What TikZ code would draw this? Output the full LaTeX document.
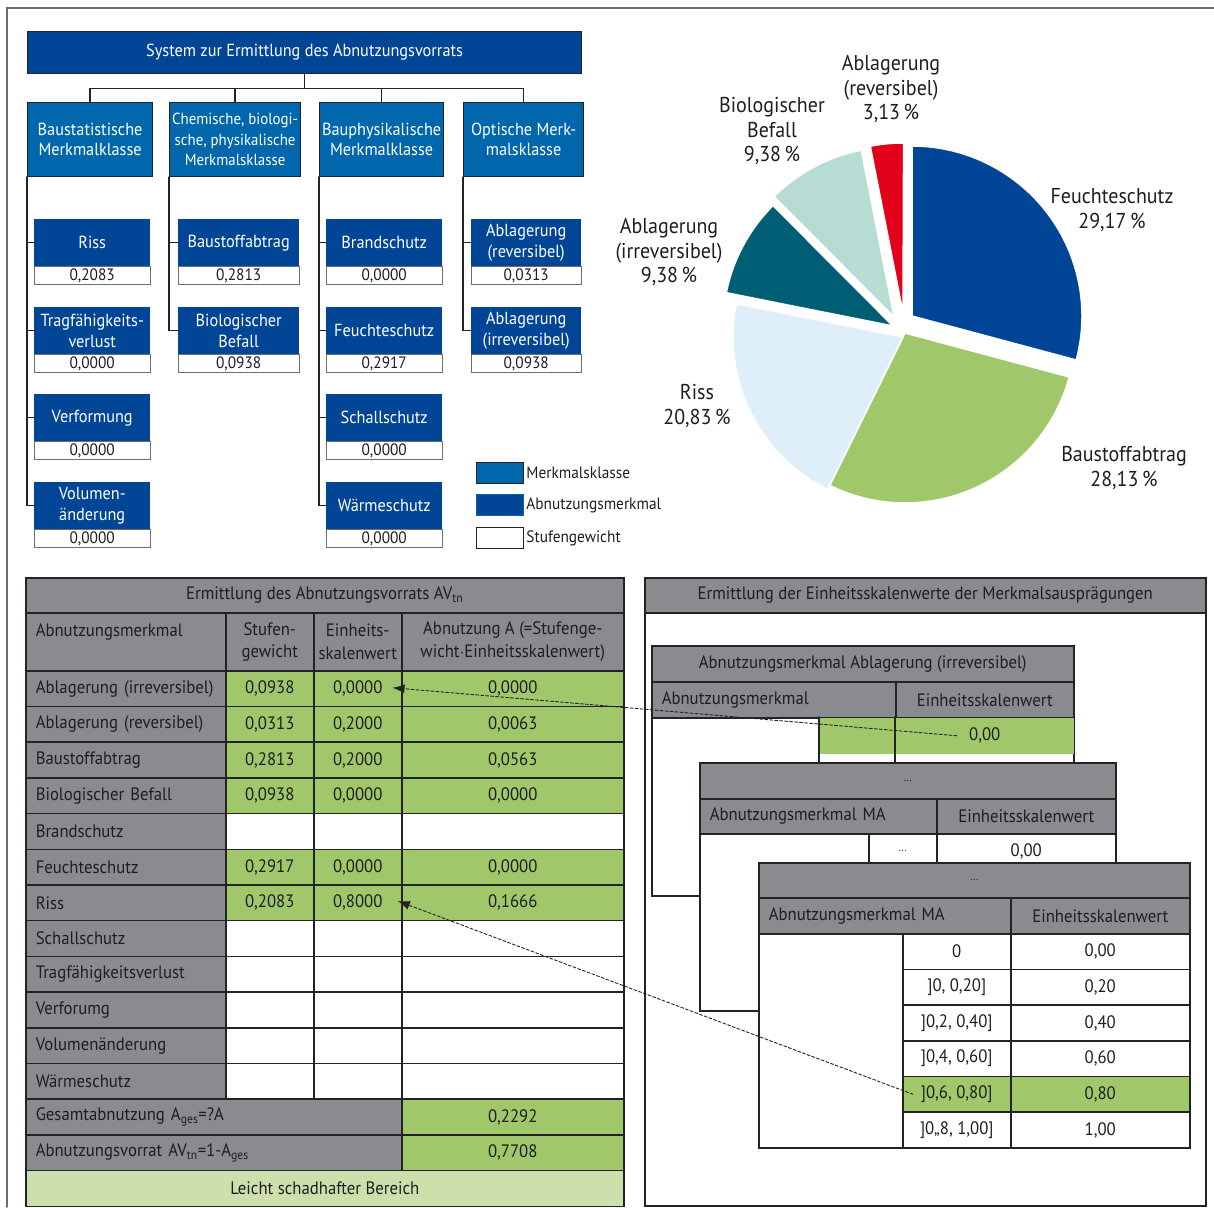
\documentclass[tikz,border=0pt]{standalone}
\usepackage{fontspec}
\setmainfont{PT Sans}[FakeStretch=0.93]
\usetikzlibrary{arrows.meta}

\definecolor{dunkelblau}{RGB}{0,69,150}
\definecolor{mittelblau}{RGB}{0,103,172}
\definecolor{rahmen}{RGB}{35,35,38}
\definecolor{grau}{RGB}{110,110,112}
\definecolor{tabgrau}{RGB}{138,139,142}
\definecolor{tabgruen}{RGB}{160,199,106}
\definecolor{hellgruen}{RGB}{205,224,172}
\definecolor{hellblau}{RGB}{222,239,250}
\definecolor{petrol}{RGB}{0,94,116}
\definecolor{mint}{RGB}{182,220,212}
\definecolor{signalrot}{RGB}{226,0,26}
\definecolor{schrift}{RGB}{30,30,32}

\newcommand{\baumfont}{\fontsize{17.5}{20.5}\selectfont}
\newcommand{\wertfont}{\fontsize{16.5}{17}\selectfont}
\newcommand{\tabfont}{\fontsize{18}{22.5}\selectfont}
\newcommand{\tortefont}{\fontsize{21.5}{24.5}\selectfont}
\newcommand{\legfont}{\fontsize{16.5}{18}\selectfont}

\tikzset{
  linie/.style={draw=rahmen, line width=1.3pt},
  titelbox/.style={draw=rahmen, line width=1.2pt, fill=dunkelblau, text=white, font=\baumfont,
    minimum width=554pt, minimum height=42pt, inner sep=0pt, anchor=north west},
  klasse/.style={draw=rahmen, line width=1.2pt, fill=mittelblau, text=white, align=center,
    minimum height=74pt, inner sep=0pt, font=\baumfont, anchor=north west},
  merkmal/.style={fill=dunkelblau, text=white, align=center, minimum height=47pt,
    inner sep=0pt, font=\baumfont, anchor=north west},
  wert/.style={draw=grau, line width=1pt, fill=white, text=schrift, minimum height=18pt,
    inner sep=0pt, font=\wertfont, anchor=north},
  legbox/.style={line width=1.2pt, minimum width=47pt, minimum height=21pt, inner sep=0pt,
    anchor=north west},
  legtext/.style={text=schrift, font=\legfont, inner sep=2pt, anchor=west},
  tortentext/.style={text=schrift, font=\tortefont, align=center, inner sep=0pt},
  zelle/.style={draw=rahmen, line width=1.5pt, inner sep=0pt, anchor=north west,
    font=\tabfont, text=schrift, minimum height=35.7pt},
  namezelle/.style={fill=tabgrau, minimum width=200pt, text width=180pt, align=left,
    inner xsep=10pt},
  spaltl/.style={fill=tabgrau, align=left, inner xsep=10pt, minimum height=36pt},
  pfeil/.style={draw=rahmen, line width=0.9pt, dash pattern=on 3pt off 2pt,
    -{Latex[length=12pt,width=9pt]}},
}

\begin{document}
\begin{tikzpicture}[x=1pt,y=-1pt,line cap=round]
        \useasboundingbox (0,0) rectangle (1214,1207);
        % Tunables
        \def\rh{35.7}      % row height of the left table
        \def\sh{35.67}     % row height of the scale table
        \def\r{170}        % pie radius

        % Helper macro for one feature: (name, x left, y top, width, text, value)
        \newcommand{\merkmalbox}[6]{%
          \node[merkmal, minimum width=#4pt] (#1) at (#2,#3) {#5};
          \node[wert, minimum width=#4pt] (#1w) at (#1.south) {#6};
        }
        % Helper macro for one pie slice: (colour, apex x, apex y, start angle, end angle)
        \newcommand{\stueck}[5]{%
          \fill[#1, draw=white, line width=1.5pt] (#2,#3) -- ++(-#4:\r)
            arc[start angle=-#4, end angle=-#5, radius=\r] -- cycle;
        }
        % Helper macro for one table row: (name, index, label, weight, scale value, wear, fill)
        \newcommand{\zeile}[7]{%
          \node[zelle, namezelle] (#1l) at (25,{670+#2*\rh}) {#3};
          \node[zelle, fill=#7, minimum width=88pt] (#1a) at (225,{670+#2*\rh}) {#4};
          \node[zelle, fill=#7, minimum width=88pt] (#1b) at (313,{670+#2*\rh}) {#5};
          \node[zelle, fill=#7, minimum width=222pt] (#1c) at (401,{670+#2*\rh}) {#6};
        }
        % Helper macro for one scale step: (name, index, interval, value, fill)
        \newcommand{\stufe}[5]{%
          \node[zelle, fill=#5, minimum width=108pt] (#1a) at (902,{933+#2*\sh}) {#3};
          \node[zelle, fill=#5, minimum width=179pt] (#1b) at (1010,{933+#2*\sh}) {#4};
        }

        % Outer frame
        \draw[draw=grau, line width=1.5pt] (1214,8) -- (7,8) -- (7,1207);

        % Tree
        \node[titelbox] (titel) at (27,31) {System zur Ermittlung des Abnutzungsvorrats};
        \node[klasse, minimum width=125pt] (k1) at (27,102) {Baustatistische\\Merkmalklasse};
        \node[klasse, minimum width=131pt, font=\fontsize{16}{20.5}\selectfont] (k2) at (169,102)
          {Chemische, biologi-\\sche, physikalische\\Merkmalsklasse};
        \node[klasse, minimum width=124pt] (k3) at (319,102) {Bauphysikalische\\Merkmalklasse};
        \node[klasse, minimum width=120pt] (k4) at (463,102) {Optische Merk-\\malsklasse};

        \draw[linie] (titel.south) -- ++(0,14) coordinate (ast);
        \draw[linie] (ast) -| (k1.north);
        \draw[linie] (ast) -| (k2.north);
        \draw[linie] (ast) -| (k3.north);
        \draw[linie] (ast) -| (k4.north);

        \merkmalbox{riss}{34}{219}{116}{Riss}{0,2083}
        \merkmalbox{trag}{34}{307}{116}{Tragfähigkeits-\\verlust}{0,0000}
        \merkmalbox{verf}{34}{394}{116}{Verformung}{0,0000}
        \merkmalbox{vol}{34}{482}{116}{Volumen-\\änderung}{0,0000}
        \merkmalbox{abtrag}{178}{219}{121}{Baustoffabtrag}{0,2813}
        \merkmalbox{bio}{178}{307}{121}{Biologischer\\Befall}{0,0938}
        \merkmalbox{brand}{326}{219}{116}{Brandschutz}{0,0000}
        \merkmalbox{feucht}{326}{307}{116}{Feuchteschutz}{0,2917}
        \merkmalbox{schall}{326}{394}{116}{Schallschutz}{0,0000}
        \merkmalbox{waerme}{326}{482}{116}{Wärmeschutz}{0,0000}
        \merkmalbox{ablrev}{471}{219}{110}{Ablagerung\\(reversibel)}{0,0313}
        \merkmalbox{ablirr}{471}{307}{110}{Ablagerung\\(irreversibel)}{0,0938}

        \draw[linie] (k1.south west) |- (riss.west);
        \draw[linie] (k1.south west) |- (trag.west);
        \draw[linie] (k1.south west) |- (verf.west);
        \draw[linie] (k1.south west) |- (vol.west);
        \draw[linie] (k2.south west) |- (abtrag.west);
        \draw[linie] (k2.south west) |- (bio.west);
        \draw[linie] (k3.south west) |- (brand.west);
        \draw[linie] (k3.south west) |- (feucht.west);
        \draw[linie] (k3.south west) |- (schall.west);
        \draw[linie] (k3.south west) |- (waerme.west);
        \draw[linie] (k4.south west) |- (ablrev.west);
        \draw[linie] (k4.south west) |- (ablirr.west);

        % Legend
        \node[legbox, fill=mittelblau, draw=rahmen] (leg1) at (476,462) {};
        \node[legbox, fill=dunkelblau, draw=mittelblau] (leg2) at (476,494) {};
        \node[legbox, fill=white, draw=rahmen] (leg3) at (476,527) {};
        \node[legtext] (leg1t) at (leg1.east) {Merkmalsklasse};
        \node[legtext] (leg2t) at (leg2.east) {Abnutzungsmerkmal};
        \node[legtext] (leg3t) at (leg3.east) {Stufengewicht};

        % Pie
        \stueck{dunkelblau}{912}{316}{90}{-15}
        \stueck{tabgruen}{905}{333}{-15}{-116.3}
        \stueck{hellblau}{903}{337}{-116.3}{-191.3}
        \stueck{petrol}{893}{326}{168.7}{134.9}
        \stueck{mint}{894}{317}{134.9}{101.1}
        \stueck{signalrot}{903}{313}{101.1}{89.8}

        \node[tortentext] (lablrev) at (891,89) {Ablagerung\\(reversibel)\\3,13\,\%};
        \node[tortentext] (lbio) at (772,131) {Biologischer\\Befall\\9,38\,\%};
        \node[tortentext] (lfeucht) at (1112,210) {Feuchteschutz\\29,17\,\%};
        \node[tortentext] (lablirr) at (669,252) {Ablagerung\\(irreversibel)\\9,38\,\%};
        \node[tortentext] (lriss) at (697,406) {Riss\\20,83\,\%};
        \node[tortentext] (labtrag) at (1124,468) {Baustoffabtrag\\28,13\,\%};

        % Left table
        \node[zelle, fill=tabgrau, minimum width=598pt, minimum height=35pt] (ltitel) at (25,577)
          {Ermittlung des Abnutzungsvorrats AV\textsubscript{tn}};
        \node[zelle, namezelle, minimum height=58pt] (kopfl) at (25,612) {Abnutzungsmerkmal\\\mbox{}};
        \node[zelle, fill=tabgrau, minimum width=88pt, minimum height=58pt, align=center] (kopfa)
          at (225,612) {Stufen-\\gewicht};
        \node[zelle, fill=tabgrau, minimum width=88pt, minimum height=58pt, align=center] (kopfb)
          at (313,612) {Einheits-\\skalenwert};
        \node[zelle, fill=tabgrau, minimum width=222pt, minimum height=58pt, align=center] (kopfc)
          at (401,612) {Abnutzung A (=Stufenge-\\wicht$\cdot$Einheitsskalenwert)};

        \zeile{z1}{0}{Ablagerung (irreversibel)}{0,0938}{0,0000}{0,0000}{tabgruen}
        \zeile{z2}{1}{Ablagerung (reversibel)}{0,0313}{0,2000}{0,0063}{tabgruen}
        \zeile{z3}{2}{Baustoffabtrag}{0,2813}{0,2000}{0,0563}{tabgruen}
        \zeile{z4}{3}{Biologischer Befall}{0,0938}{0,0000}{0,0000}{tabgruen}
        \zeile{z5}{4}{Brandschutz}{}{}{}{white}
        \zeile{z6}{5}{Feuchteschutz}{0,2917}{0,0000}{0,0000}{tabgruen}
        \zeile{z7}{6}{Riss}{0,2083}{0,8000}{0,1666}{tabgruen}
        \zeile{z8}{7}{Schallschutz}{}{}{}{white}
        \zeile{z9}{8}{Tragfähigkeitsverlust}{}{}{}{white}
        \zeile{z10}{9}{Verforumg}{}{}{}{white}
        \zeile{z11}{10}{Volumenänderung}{}{}{}{white}
        \zeile{z12}{11}{Wärmeschutz}{}{}{}{white}

        \node[zelle, namezelle, minimum width=376pt, text width=356pt] (gesl) at (25,{670+12*\rh})
          {Gesamtabnutzung A\textsubscript{ges}=?A};
        \node[zelle, fill=tabgruen, minimum width=222pt] (gesw) at (401,{670+12*\rh}) {0,2292};
        \node[zelle, namezelle, minimum width=376pt, text width=356pt] (vorl) at (25,{670+13*\rh})
          {Abnutzungsvorrat AV\textsubscript{tn}=1-A\textsubscript{ges}};
        \node[zelle, fill=tabgruen, minimum width=222pt] (vorw) at (401,{670+13*\rh}) {0,7708};
        \node[zelle, fill=hellgruen, minimum width=598pt] (bereich) at (25,{670+14*\rh})
          {Leicht schadhafter Bereich};

        % Right panel
        \node[zelle, fill=white, minimum width=561pt, minimum height=628pt] (rrahmen) at (644,577) {};
        \node[zelle, fill=tabgrau, minimum width=561pt, minimum height=35pt] (rtitel) at (644,577)
          {Ermittlung der Einheitsskalenwerte der Merkmalsausprägungen};

        % Scale table: Ablagerung (irreversibel)
        \node[zelle, fill=white, minimum width=422pt, minimum height=250pt] (t1) at (651,645) {};
        \node[zelle, fill=tabgrau, minimum width=422pt, minimum height=36pt] (t1kopf) at (651,645)
          {Abnutzungsmerkmal Ablagerung (irreversibel)};
        \node[zelle, spaltl, minimum width=244pt, text width=224pt] (t1a) at (651,681) {Abnutzungsmerkmal};
        \node[zelle, fill=tabgrau, minimum width=178pt, minimum height=36pt] (t1b) at (895,681)
          {Einheitsskalenwert};
        \node[zelle, draw=none, fill=tabgruen, minimum width=76pt, minimum height=36pt] (t1c) at (819,717) {};
        \node[zelle, draw=none, fill=tabgruen, minimum width=178pt, minimum height=36pt] (t1d) at (895,717) {0,00};
        \draw[linie] (t1c.north west) -- ++(0,45);
        \draw[linie] (t1d.north west) -- ++(0,45);
        \draw[linie] (t1d.north east) -- ++(0,45);

        % Scale table: second feature
        \node[zelle, fill=white, minimum width=416pt, minimum height=248pt] (t2) at (699,762) {};
        \node[zelle, fill=tabgrau, minimum width=416pt, minimum height=36pt] (t2kopf) at (699,762)
          {\fontsize{11}{11}\selectfont...};
        \node[zelle, spaltl, minimum width=237pt, text width=217pt, minimum height=35pt] (t2a) at (699,798)
          {Abnutzungsmerkmal MA};
        \node[zelle, fill=tabgrau, minimum width=179pt, minimum height=35pt] (t2b) at (936,798)
          {Einheitsskalenwert};
        \node[zelle, minimum width=68pt, minimum height=35pt] (t2c) at (868,833)
          {\fontsize{11}{11}\selectfont...};
        \node[zelle, minimum width=179pt, minimum height=35pt] (t2d) at (936,833) {0,00};

        % Scale table: feature MA
        \node[zelle, fill=white, minimum width=431pt, minimum height=285pt] (t3) at (758,862) {};
        \node[zelle, fill=tabgrau, minimum width=431pt, minimum height=35pt] (t3kopf) at (758,862)
          {\fontsize{11}{11}\selectfont...};
        \node[zelle, spaltl, minimum width=252pt, text width=232pt] (t3a) at (758,897) {Abnutzungsmerkmal MA};
        \node[zelle, fill=tabgrau, minimum width=179pt, minimum height=36pt] (t3b) at (1010,897)
          {Einheitsskalenwert};
        \stufe{s1}{0}{0}{0,00}{white}
        \stufe{s2}{1}{]0, 0,20]}{0,20}{white}
        \stufe{s3}{2}{]0,2, 0,40]}{0,40}{white}
        \stufe{s4}{3}{]0,4, 0,60]}{0,60}{white}
        \stufe{s5}{4}{]0,6, 0,80]}{0,80}{tabgruen}
        \stufe{s6}{5}{]0,,8, 1,00]}{1,00}{white}

        % Links from the scale tables into the left table
        \draw[pfeil, shorten >=-10pt] ([xshift=62pt]t1d.west) -- (z1b.east);
        \draw[pfeil, shorten >=-5pt] ([xshift=11pt]s5a.west) -- (z7b.east);
      \end{tikzpicture}
\end{document}
